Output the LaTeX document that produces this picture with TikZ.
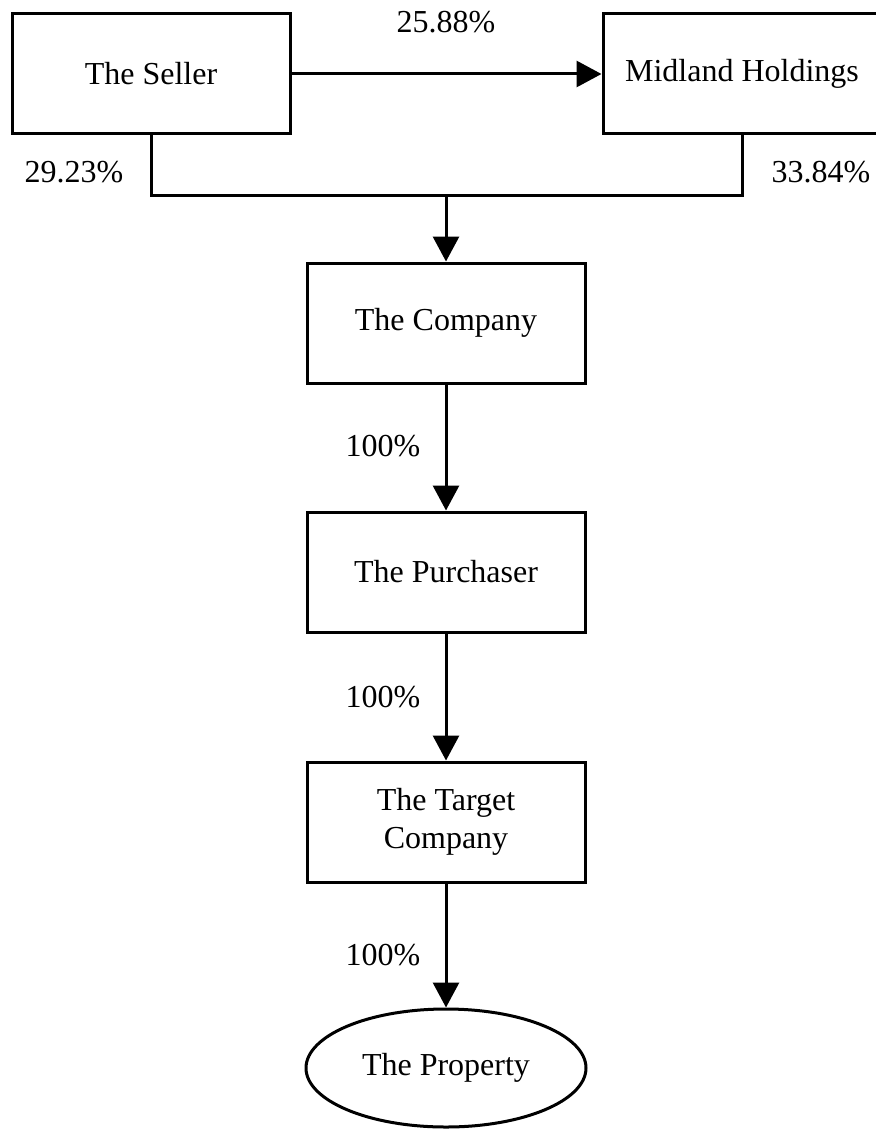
\documentclass[tikz,border=0pt]{standalone}
\usepackage{fontspec}
\setmainfont{Liberation Serif}
\usepackage{tikz}
\usetikzlibrary{arrows.meta, shapes.geometric}
\tikzset{
    entity/.style={draw, line width=1.5pt, minimum width=139pt, minimum height=60pt, inner sep=0pt, align=center}, % boxes
    asset/.style={draw, ellipse, line width=1.5pt, minimum width=140pt, minimum height=59pt, inner sep=0pt}, % the property
    link/.style={line width=1.5pt, -{Triangle[length=12.5pt, width=13pt]}}, % arrows
    share/.style={inner sep=0pt} % percent labels
}

\begin{document}
\begin{tikzpicture}[x=0.5pt, y=-0.5pt, font=\fontsize{16}{19}\selectfont]
            \useasboundingbox (0,0) rectangle (876,1129);
            \clip (0,0) rectangle (876,1129);

            \node[entity] (seller) at (151,74) {The Seller};
            \node[entity] (midland) at (742,74) {Midland Holdings};
            \node[entity] (company) at (446,323) {The Company};
            \node[entity] (purchaser) at (446,572) {The Purchaser};
            \node[entity] (target) at (446,822) {The Target\\Company};
            \node[asset] (property) at (446,1068) {The Property};

            \coordinate (join) at (446,195);
            \draw[line width=1.5pt] (seller.south) |- (join) -| (midland.south);
            \draw[link] (seller) -- (midland);
            \draw[link] (join) -- (company);
            \draw[link] (company) -- (purchaser);
            \draw[link] (purchaser) -- (target);
            \draw[link] (target) -- (property);

            \node[share] (pmid) at (446,22) {25.88\%};
            \node[share] (pseller) at (74,172) {29.23\%};
            \node[share] (pmidland) at (821,172) {33.84\%};
            \foreach \y/\n in {446/pa, 697/pb, 955/pc} {\node[share] (\n) at (383,\y) {100\%};}
        \end{tikzpicture}
\end{document}
